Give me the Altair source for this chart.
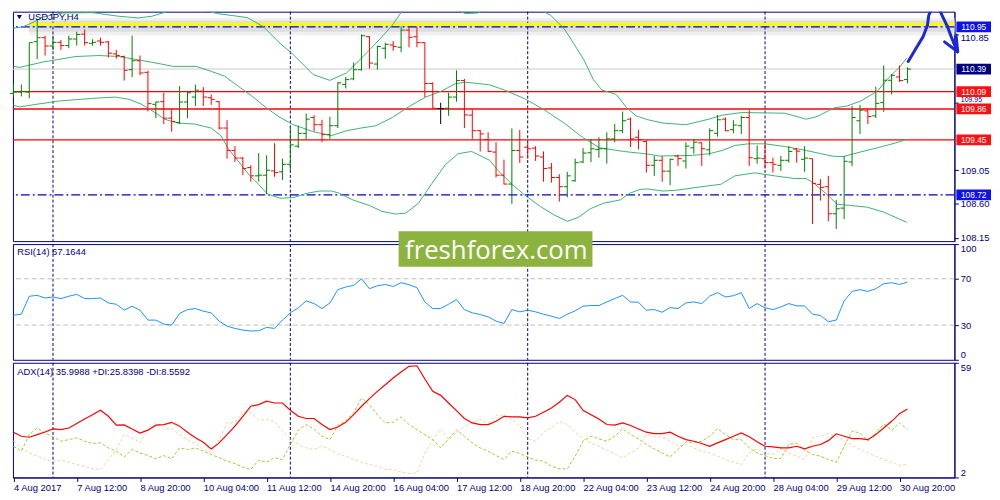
import altair as alt
import pandas as pd

# ---------------- data ----------------
symbol_label = "USDJPY,H4"
rsi_label = "RSI(14) 67.1644"
adx_label = "ADX(14) 35.9988 +DI:25.8398 -DI:8.5592"
watermark = "freshforex.com"

x_labels = ["4 Aug 2017", "7 Aug 12:00", "8 Aug 20:00", "10 Aug 04:00", "11 Aug 12:00",
            "14 Aug 20:00", "16 Aug 04:00", "17 Aug 12:00", "18 Aug 20:00", "22 Aug 04:00",
            "23 Aug 12:00", "24 Aug 20:00", "28 Aug 04:00", "29 Aug 12:00", "30 Aug 20:00"]
week_starts = [5, 35, 65, 95]

opens = [110.067, 110.084, 110.084, 110.753, 110.806, 110.696, 110.744, 110.701, 110.788, 110.854,
         110.731, 110.762, 110.749, 110.591, 110.556, 110.381, 110.500, 110.346, 109.922, 109.957,
         109.739, 109.682, 109.953, 110.018, 110.097, 110.010, 109.957, 109.607, 109.310, 109.209,
         109.083, 108.973, 108.982, 109.039, 109.026, 109.126, 109.367, 109.537, 109.747, 109.651,
         109.520, 109.638, 110.185, 110.259, 110.381, 110.819, 110.456, 110.666, 110.709, 110.679,
         110.906, 110.819, 110.740, 110.198, 109.865, 109.870, 110.018, 110.237, 109.778, 109.572,
         109.454, 109.288, 108.982, 108.864, 109.310, 109.354, 109.341, 109.223, 109.078, 108.951,
         108.829, 108.908, 109.157, 109.279, 109.323, 109.332, 109.463, 109.572, 109.725, 109.485,
         109.428, 109.113, 109.179, 109.035, 109.236, 109.170, 109.345, 109.411, 109.319, 109.537,
         109.725, 109.586, 109.638, 109.747, 109.201, 109.201, 109.148, 109.113, 109.179, 109.328,
         109.192, 109.201, 108.860, 108.829, 108.470, 108.545, 109.157, 109.704, 109.835, 109.769,
         109.944, 110.241, 110.285, 110.250]
highs = [110.193, 110.185, 110.740, 111.046, 110.832, 110.832, 110.775, 110.832, 110.884, 110.915,
         110.784, 110.806, 110.762, 110.644, 110.569, 110.832, 110.569, 110.368, 109.957, 110.075,
         109.857, 110.163, 110.084, 110.185, 110.150, 110.053, 109.966, 109.712, 109.367, 109.223,
         109.113, 109.275, 109.244, 109.406, 109.201, 109.638, 109.638, 109.800, 109.778, 109.717,
         109.756, 110.215, 110.285, 110.478, 110.849, 110.827, 110.701, 110.740, 110.762, 110.955,
         110.955, 110.955, 110.744, 110.215, 109.944, 110.075, 110.373, 110.259, 109.848, 109.581,
         109.551, 109.419, 109.188, 109.603, 109.581, 109.419, 109.367, 109.297, 109.144, 108.995,
         109.026, 109.201, 109.341, 109.463, 109.485, 109.551, 109.660, 109.826, 109.747, 109.581,
         109.441, 109.236, 109.236, 109.201, 109.253, 109.419, 109.463, 109.419, 109.603, 109.782,
         109.747, 109.712, 109.769, 109.844, 109.376, 109.411, 109.214, 109.236, 109.367, 109.345,
         109.367, 109.201, 108.930, 108.973, 108.654, 109.236, 109.900, 109.914, 109.857, 110.154,
         110.438, 110.325, 110.438, 110.412]
lows = [110.018, 110.027, 110.001, 110.521, 110.569, 110.639, 110.644, 110.666, 110.701, 110.701,
        110.701, 110.701, 110.543, 110.526, 110.237, 110.281, 110.307, 109.826, 109.739, 109.660,
        109.559, 109.660, 109.739, 109.900, 109.900, 109.914, 109.586, 109.201, 109.157, 108.982,
        108.895, 108.895, 108.728, 108.960, 108.916, 109.048, 109.341, 109.454, 109.564, 109.419,
        109.463, 109.607, 110.132, 110.241, 110.368, 110.395, 110.381, 110.526, 110.631, 110.613,
        110.679, 110.679, 110.018, 109.870, 109.660, 109.769, 109.957, 109.607, 109.463, 109.297,
        109.288, 108.951, 108.860, 108.602, 109.144, 109.201, 109.170, 108.895, 108.882, 108.632,
        108.689, 108.895, 109.144, 109.157, 109.214, 109.135, 109.419, 109.537, 109.354, 109.323,
        109.017, 108.973, 108.895, 108.851, 109.105, 109.070, 109.266, 109.105, 109.244, 109.494,
        109.564, 109.537, 109.529, 109.105, 109.135, 109.070, 109.017, 109.039, 109.148, 109.148,
        109.026, 108.335, 108.645, 108.370, 108.269, 108.400, 109.100, 109.529, 109.660, 109.739,
        109.822, 110.053, 110.220, 110.198]
closes = [110.084, 110.093, 110.740, 110.806, 110.696, 110.744, 110.701, 110.788, 110.849, 110.740,
          110.744, 110.744, 110.600, 110.569, 110.373, 110.500, 110.338, 109.931, 109.953, 109.739,
          109.695, 109.953, 110.075, 110.110, 110.018, 109.988, 109.607, 109.310, 109.209, 109.070,
          108.973, 108.982, 109.048, 109.017, 109.126, 109.384, 109.537, 109.725, 109.651, 109.520,
          109.638, 110.207, 110.250, 110.381, 110.832, 110.469, 110.688, 110.718, 110.688, 110.906,
          110.810, 110.740, 110.198, 109.870, 109.865, 110.018, 110.237, 109.782, 109.572, 109.529,
          109.297, 108.982, 108.864, 109.310, 109.223, 109.332, 109.236, 109.070, 108.951, 108.829,
          108.973, 109.148, 109.275, 109.332, 109.332, 109.463, 109.572, 109.704, 109.463, 109.454,
          109.113, 109.179, 109.035, 109.192, 109.201, 109.367, 109.419, 109.332, 109.572, 109.717,
          109.572, 109.647, 109.747, 109.214, 109.209, 109.148, 109.126, 109.179, 109.297, 109.301,
          109.209, 108.873, 108.820, 108.470, 108.536, 109.166, 109.747, 109.844, 109.760, 109.935,
          110.241, 110.307, 110.237, 110.390]

bb_upper_x = [0, 1.2, 2.3, 3.7, 6.2, 10.0, 13.3, 15.8, 17.5, 20.0, 23.3, 25.8, 29.6, 31.6, 33.7, 35.4,
              37.9, 40.0, 42.1, 44.2, 46.2, 47.9, 49.6, 52.0, 55.0, 57.1, 58.7, 60.2, 61.3, 63.5, 65.8,
              67.9, 69.6, 70.8, 72.1, 73.3, 74.4, 76.2, 77.5, 78.7, 80.2, 82.1, 85.0, 87.9, 89.6, 92.1,
              97.5, 100.2, 101.6, 103.7, 105.4, 107.1, 109.2, 110.6, 112.1, 112.9]
bb_upper_y = [110.93, 110.95, 111.00, 111.08, 111.134, 111.138, 111.09, 111.068, 111.09, 111.169, 111.19,
              111.125, 111.072, 110.95, 110.731, 110.578, 110.316, 110.24, 110.338, 110.556, 110.775,
              110.972, 111.234, 111.45, 111.22, 111.125, 111.134, 111.19, 111.25, 111.45, 111.221,
              111.103, 110.928, 110.731, 110.513, 110.25, 110.11, 110.053, 109.878, 109.769, 109.717,
              109.673, 109.651, 109.725, 109.778, 109.813, 109.804, 109.725, 109.76, 109.874, 109.9,
              109.966, 110.097, 110.272, 110.425, 110.534]
bb_mid_x = [0, 0.8, 3.7, 7.9, 10.8, 13.3, 16.2, 18.7, 20.2, 23.1, 25.0, 26.7, 28.7, 30.4, 32.1, 33.7,
            35.4, 37.9, 40.2, 42.1, 43.7, 45.8, 47.9, 50.0, 52.1, 54.1, 55.8, 57.1, 58.7, 60.2, 62.1,
            64.6, 67.1, 69.6, 72.1, 74.1, 77.1, 80.2, 81.6, 85.8, 87.9, 89.6, 91.2, 92.9, 95.0, 97.5,
            100.2, 102.1, 103.7, 105.0, 106.2, 108.7, 110.8, 112.9]
bb_mid_y = [110.425, 110.412, 110.482, 110.556, 110.569, 110.556, 110.504, 110.456, 110.425, 110.425,
            110.36, 110.294, 110.141, 110.01, 109.865, 109.747, 109.651, 109.559, 109.507, 109.572,
            109.603, 109.638, 109.747, 109.892, 110.018, 110.097, 110.193, 110.215, 110.198, 110.18,
            110.11, 109.997, 109.848, 109.673, 109.472, 109.345, 109.297, 109.262, 109.236, 109.244,
            109.266, 109.31, 109.376, 109.398, 109.398, 109.362, 109.31, 109.266, 109.231, 109.231,
            109.266, 109.332, 109.389, 109.454]
bb_low_x = [0, 0.8, 2.9, 5.8, 10.0, 12.9, 14.6, 16.2, 17.9, 19.1, 20.2, 20.8, 22.9, 25.0, 26.2, 27.3,
            28.5, 29.8, 31.0, 32.1, 33.7, 35.4, 37.1, 38.7, 40.2, 41.2, 42.9, 45.0, 46.6, 48.3, 49.6,
            51.2, 52.9, 54.6, 56.2, 57.9, 60.2, 61.2, 62.9, 64.6, 66.6, 68.3, 70.0, 71.4, 72.9, 74.6,
            76.7, 77.9, 79.2, 80.2, 82.1, 83.7, 87.9, 89.4, 91.2, 93.7, 96.2, 98.7, 100.2, 101.2,
            102.9, 104.1, 105.8, 107.9, 110.0, 112.9]
bb_low_y = [109.909, 109.887, 109.922, 109.966, 110.001, 110.018, 109.988, 109.922, 109.813, 109.725,
            109.69, 109.673, 109.66, 109.607, 109.507, 109.31, 109.157, 108.982, 108.86, 108.733,
            108.676, 108.685, 108.742, 108.772, 108.772, 108.742, 108.654, 108.58, 108.501, 108.466,
            108.479, 108.61, 108.873, 109.122, 109.266, 109.297, 109.179, 109.048, 108.873, 108.72,
            108.567, 108.457, 108.37, 108.422, 108.536, 108.61, 108.654, 108.742, 108.794, 108.798,
            108.772, 108.781, 108.842, 108.86, 108.973, 109.013, 108.973, 108.938, 108.938, 108.873,
            108.72, 108.597, 108.58, 108.558, 108.492, 108.357]

resistance_level = 110.95
support_level = 108.72
red_levels = [110.09, 109.86, 109.45]
bid_price = 110.39
price_ticks = [108.15, 108.60, 109.05, 109.95, 110.85]

rsi = [38.6, 39.4, 54.9, 55.7, 53.4, 54.3, 52.9, 54.9, 56.6, 52.9,
       52.9, 53.4, 49.1, 48.0, 42.9, 46.3, 42.9, 34.3, 34.3, 30.9,
       30.0, 40.0, 43.4, 44.3, 42.0, 40.6, 33.4, 29.1, 27.1, 25.7,
       24.9, 25.1, 28.0, 27.1, 34.3, 40.6, 44.9, 50.9, 48.6, 44.3,
       49.1, 60.6, 62.9, 64.3, 70.0, 61.4, 64.0, 65.1, 63.4, 66.6,
       64.9, 62.3, 50.0, 44.3, 44.3, 48.0, 52.0, 43.4, 40.6, 39.1,
       37.1, 33.4, 31.4, 43.4, 41.4, 42.9, 41.4, 39.4, 37.7, 35.7,
       39.4, 42.3, 46.3, 46.9, 46.9, 50.0, 52.9, 55.7, 50.0, 49.7,
       42.9, 43.4, 41.1, 45.1, 44.3, 49.1, 50.0, 48.6, 55.1, 58.0,
       54.3, 55.4, 58.0, 44.3, 48.6, 44.9, 43.4, 45.7, 48.6, 46.6,
       46.6, 39.4, 38.3, 32.9, 34.3, 50.9, 59.1, 60.6, 59.1, 61.4,
       65.7, 66.6, 65.1, 67.2]
rsi_levels = [70, 30]

adx = [24.5, 22.5, 22.0, 23.3, 24.6, 26.1, 25.8, 26.6, 28.8, 31.1,
       33.2, 35.4, 32.4, 28.0, 28.1, 26.1, 24.1, 25.5, 28.0, 28.3,
       29.4, 27.5, 24.5, 21.7, 19.5, 16.2, 19.2, 23.3, 27.5, 32.4,
       37.4, 38.2, 39.9, 39.0, 39.0, 35.4, 32.4, 31.3, 31.3, 28.3,
       25.8, 27.1, 29.4, 33.2, 37.4, 41.2, 44.8, 48.1, 51.4, 54.4,
       57.2, 57.5, 50.9, 44.8, 42.8, 39.0, 35.2, 31.3, 29.1, 28.3,
       28.3, 29.9, 32.4, 32.1, 32.1, 31.6, 32.4, 34.4, 36.5, 39.4,
       42.8, 40.7, 35.4, 33.2, 31.1, 28.3, 28.0, 29.1, 27.8, 26.1,
       24.5, 23.8, 23.8, 24.5, 22.5, 20.8, 20.0, 18.9, 17.5, 19.2,
       20.8, 22.5, 24.1, 22.2, 19.7, 17.5, 17.2, 16.7, 16.7, 17.5,
       16.2, 17.5, 18.4, 20.3, 23.7, 22.5, 21.3, 21.3, 20.8, 23.3,
       26.6, 29.9, 33.7, 36.0]
plus_di = [17.5, 15.1, 23.3, 26.6, 24.1, 22.2, 20.0, 20.8, 21.7, 20.0,
           18.9, 19.2, 16.7, 15.1, 12.2, 15.9, 14.2, 12.9, 11.3, 12.9,
           11.3, 16.7, 15.9, 16.7, 15.1, 13.4, 11.8, 10.1, 8.9, 7.1,
           6.0, 10.6, 9.6, 11.8, 10.9, 18.4, 25.5, 28.3, 26.1, 22.5,
           20.8, 27.8, 30.3, 34.1, 41.5, 38.2, 33.2, 29.1, 29.4, 32.1,
           28.3, 25.8, 23.3, 20.8, 16.7, 21.2, 25.5, 22.5, 19.2, 16.7,
           15.1, 12.9, 10.9, 15.1, 13.9, 12.2, 10.6, 10.1, 7.6, 6.3,
           6.3, 12.6, 20.0, 22.5, 21.2, 20.0, 22.5, 26.3, 23.3, 21.2,
           18.4, 16.2, 14.2, 12.2, 15.9, 19.5, 19.5, 20.0, 22.5, 26.3,
           23.3, 20.8, 20.8, 16.7, 14.2, 12.9, 11.4, 11.4, 18.4, 18.9,
           15.6, 13.4, 12.6, 10.9, 9.6, 17.5, 25.0, 24.1, 20.0, 24.1,
           28.6, 25.5, 29.1, 25.8]
minus_di = [20.0, 16.7, 14.2, 12.6, 10.9, 10.1, 10.6, 9.6, 8.4, 7.6,
            6.3, 6.0, 10.9, 15.9, 23.3, 21.7, 19.2, 25.8, 29.4, 26.1,
            26.1, 23.3, 20.8, 18.9, 16.2, 14.2, 20.8, 29.1, 29.4, 34.9,
            34.1, 30.4, 30.8, 29.9, 25.0, 21.2, 18.4, 16.7, 15.9, 17.5,
            15.9, 13.7, 12.6, 10.9, 9.6, 8.4, 7.6, 6.0, 6.0, 4.6,
            4.0, 4.3, 14.2, 20.8, 26.1, 20.8, 24.1, 27.1, 29.4, 30.8,
            29.1, 32.7, 33.2, 30.8, 27.5, 21.2, 20.0, 24.5, 26.6, 29.9,
            28.3, 24.5, 21.3, 19.2, 17.5, 15.6, 13.7, 11.8, 14.2, 16.7,
            23.3, 22.5, 22.0, 20.0, 17.5, 18.4, 16.7, 15.1, 14.2, 12.6,
            10.9, 9.6, 8.4, 14.2, 16.2, 14.2, 13.4, 16.2, 14.2, 12.6,
            10.9, 21.7, 22.5, 23.7, 22.5, 20.3, 17.9, 15.9, 14.2, 12.6,
            10.9, 9.6, 8.0, 8.6]

# hand-drawn arrow (bar position, price): rising stroke, falling stroke, two barbs of the head
arrow_up_x = [113.1, 113.94, 114.98, 115.53, 115.69, 116.1, 116.53, 116.94, 117.48, 118.03]
arrow_up_y = [110.49, 110.64, 110.82, 110.97, 111.10, 111.20, 111.246, 111.20, 111.08, 110.96]
arrow_down_x = [118.03, 118.53, 119.03, 119.35]
arrow_down_y = [110.96, 110.82, 110.69, 110.62]
barb1_x = [117.69, 119.35]
barb1_y = [110.75, 110.62]
barb2_x = [119.15, 119.35]
barb2_y = [110.84, 110.62]

# ---------------- styling / layout ----------------
W = 952
H_PRICE, H_RSI, H_ADX = 232, 117, 116
XDOM = [-0.0625, 118.9375]
NAVY = "#000080"
FONT = "Liberation Sans"
BB_COLOR = "#3CB371"
ARROW = "#1C28D8"

xs = alt.Scale(domain=XDOM, nice=False, zero=False)
ps = alt.Scale(domain=[108.1073, 111.1507], nice=False, zero=False)

# the two labels that sit against the level boxes are nudged (and one shrunk) so they stay readable
squeezed = "datum.value > 109.9 && datum.value < 110"
price_axis = alt.Axis(orient="right", values=price_ticks, format=".2f", title=None, grid=False,
                      labelColor=NAVY, tickColor=NAVY, domainColor=NAVY, tickSize=4, labelPadding=2,
                      labelFont=FONT, labelOverlap=False,
                      labelFontSize={"expr": f"{squeezed} ? 7 : 9.5"},
                      labelOffset={"expr": f"datum.value > 110.8 ? 3 : ({squeezed} ? -2.2 : 0)"})


def X(field):
    return alt.X(f"{field}:Q", scale=xs, axis=None)


def PY(field):
    return alt.Y(f"{field}:Q", scale=ps, axis=price_axis)


n = len(opens)
bars = pd.DataFrame({"i": list(range(n)), "o": opens, "h": highs, "l": lows, "c": closes})
bars["dir"] = ["up" if c > o else ("down" if c < o else "flat") for o, c in zip(opens, closes)]
dir_color = alt.Color("dir:N", scale=alt.Scale(domain=["up", "down", "flat"],
                                               range=["#008000", "#FF0000", "#000000"]), legend=None)

seps = pd.DataFrame({"i": week_starts})

# price panel layers
shadow = alt.Chart(pd.DataFrame({"a": [2.0, 2.0], "b": [XDOM[1]] * 2,
                                 "p1": [111.07, 111.035], "p2": [110.835, 110.885],
                                 "col": ["#F0F0F0", "#DEDEDE"]})).mark_rect().encode(
    x=X("a"), x2="b", y=PY("p1"), y2="p2", color=alt.Color("col:N", scale=None))
sep_p = alt.Chart(seps).mark_rule(color=NAVY, strokeDash=[3, 2], strokeWidth=1).encode(x=X("i"))
yellow = alt.Chart(pd.DataFrame({"a": [2.0], "b": [XDOM[1]], "p": [resistance_level + 0.035]})).mark_rule(
    color="#FFFF00", strokeWidth=3).encode(x=X("a"), x2="b", y=PY("p"))
bid_line = alt.Chart(pd.DataFrame({"p": [bid_price]})).mark_rule(color="#C8C8C8", strokeWidth=1).encode(y=PY("p"))
red_lines = alt.Chart(pd.DataFrame({"p": red_levels})).mark_rule(color="#FF0000", strokeWidth=1.3).encode(y=PY("p"))
blue_lines = alt.Chart(pd.DataFrame({"p": [resistance_level, support_level]})).mark_rule(
    color="#0000CD", strokeWidth=1.2, strokeDash=[9, 3, 2, 3]).encode(y=PY("p"))

bb = pd.concat([
    pd.DataFrame({"x": bb_upper_x, "p": bb_upper_y, "band": "upper"}),
    pd.DataFrame({"x": bb_mid_x, "p": bb_mid_y, "band": "middle"}),
    pd.DataFrame({"x": bb_low_x, "p": bb_low_y, "band": "lower"}),
])
bb_lines = alt.Chart(bb).mark_line(color=BB_COLOR, strokeWidth=1, clip=True).encode(
    x=X("x"), y=PY("p"), detail="band:N", order="x:Q")

hl = alt.Chart(bars).mark_rule(strokeWidth=1).encode(x=X("i"), y=PY("h"), y2="l", color=dir_color)
open_t = alt.Chart(bars).transform_calculate(x0="datum.i - 0.45").mark_rule(strokeWidth=1).encode(
    x=X("x0"), x2="i", y=PY("o"), color=dir_color)
close_t = alt.Chart(bars).transform_calculate(x1="datum.i + 0.45").mark_rule(strokeWidth=1).encode(
    x=X("i"), x2="x1", y=PY("c"), color=dir_color)

arrow_top = alt.Chart(pd.DataFrame({"x": arrow_up_x, "p": arrow_up_y, "k": range(len(arrow_up_x))})).mark_line(
    color=ARROW, strokeWidth=3, clip=True, strokeCap="round", strokeJoin="round").encode(
    x=X("x"), y=PY("p"), order="k:Q")
head_df = pd.concat([
    pd.DataFrame({"x": arrow_down_x, "p": arrow_down_y, "seg": "a", "k": range(len(arrow_down_x))}),
    pd.DataFrame({"x": barb1_x, "p": barb1_y, "seg": "b", "k": range(2)}),
    pd.DataFrame({"x": barb2_x, "p": barb2_y, "seg": "c", "k": range(2)}),
])
arrow_head = alt.Chart(head_df).mark_line(color=ARROW, strokeWidth=3, clip=False,
                                          strokeCap="round", strokeJoin="round").encode(
    x=X("x"), y=PY("p"), detail="seg:N", order="k:Q")

boxes_df = pd.DataFrame({
    "p": [resistance_level, bid_price] + red_levels + [support_level],
    "col": ["#1010E8", "#000080", "#FF1010", "#FF1010", "#FF1010", "#1010E8"],
})
boxes_df["txt"] = [f"{v:.2f}" for v in boxes_df["p"]]
BOX = "M-1,-0.31L1,-0.31L1,0.31L-1,0.31Z"
box_marks = alt.Chart(boxes_df).mark_point(shape=BOX, size=35 * 35, filled=True, opacity=1,
                                           strokeWidth=0).encode(
    x=alt.value(W + 19.5), y=PY("p"), color=alt.Color("col:N", scale=None))
box_text = alt.Chart(boxes_df).mark_text(color="white", font=FONT, fontSize=8.5, align="center",
                                         baseline="middle").encode(
    x=alt.value(W + 19.5), y=PY("p"), text="txt:N")

title_df = pd.DataFrame({"t": [symbol_label]})
tri = alt.Chart(title_df).mark_point(shape="triangle-down", filled=True, size=26, color=NAVY,
                                     opacity=1).encode(x=alt.value(6.5), y=alt.value(5.5))
title = alt.Chart(title_df).mark_text(align="left", baseline="top", font=FONT, fontSize=9.5,
                                      color=NAVY).encode(x=alt.value(15.5), y=alt.value(0.5), text="t:N")

price = alt.layer(shadow, sep_p, yellow, bid_line, red_lines, blue_lines, bb_lines, hl, open_t, close_t,
                  arrow_top, arrow_head, box_marks, box_text, tri, title).properties(width=W, height=H_PRICE)

# RSI panel
rs = alt.Scale(domain=[0, 100], nice=False, zero=False)
rsi_axis = alt.Axis(orient="right", values=[0, 30, 70, 100], title=None, grid=False, labelFlush=True,
                    labelColor=NAVY, tickColor=NAVY, domainColor=NAVY, tickSize=4, labelPadding=2,
                    labelFont=FONT, labelFontSize=9.5)
rsi_df = pd.DataFrame({"i": list(range(n)), "v": rsi})
sep_r = alt.Chart(seps).mark_rule(color=NAVY, strokeDash=[3, 2], strokeWidth=1).encode(x=X("i"))
rsi_lv = alt.Chart(pd.DataFrame({"v": rsi_levels})).mark_rule(color="#C0C0C0", strokeDash=[5, 3]).encode(
    y=alt.Y("v:Q", scale=rs, axis=rsi_axis))
rsi_line = alt.Chart(rsi_df).mark_line(color="#1E90FF", strokeWidth=1).encode(
    x=X("i"), y=alt.Y("v:Q", scale=rs, axis=rsi_axis))
rsi_title = alt.Chart(pd.DataFrame({"t": [rsi_label]})).mark_text(
    align="left", baseline="middle", font=FONT, fontSize=9.5, color=NAVY).encode(
    x=alt.value(4.3), y=alt.value(8), text="t:N")
wm_box = alt.Chart(pd.DataFrame({"t": [watermark]})).mark_rect(color="#8DB33F").encode(
    x=alt.value(390), x2=alt.value(586), y=alt.value(-13), y2=alt.value(23))
wm_text = alt.Chart(pd.DataFrame({"t": [watermark]})).mark_text(
    align="center", baseline="alphabetic", font="Open Sans", fontSize=26, color="white").encode(
    x=alt.value(488.7), y=alt.value(15.5), text="t:N")
rsi_panel = alt.layer(sep_r, rsi_lv, rsi_line, rsi_title, wm_box, wm_text).properties(width=W, height=H_RSI)

# ADX panel
ads = alt.Scale(domain=[2, 59], nice=False, zero=False)
adx_axis = alt.Axis(orient="right", values=[2, 59], title=None, grid=False, labelFlush=True,
                    labelColor=NAVY, tickColor=NAVY, domainColor=NAVY, tickSize=4, labelPadding=2,
                    labelFont=FONT, labelFontSize=9.5)
label_js = "[" + ",".join("'" + s + "'" for s in x_labels) + "][round(datum.value / 8)]"
x_axis = alt.Axis(values=[8 * k for k in range(len(x_labels))], labelExpr=label_js, title=None,
                  grid=False, labelAlign="left", labelColor=NAVY, tickColor=NAVY, domainColor=NAVY,
                  tickSize=4, labelPadding=1, labelFont=FONT, labelFontSize=9.5, labelOverlap=False,
                  labelFlush=False)


def XA(field):
    return alt.X(f"{field}:Q", scale=xs, axis=x_axis)


sep_a = alt.Chart(seps).mark_rule(color=NAVY, strokeDash=[3, 2], strokeWidth=1).encode(x=XA("i"))
mdi_line = alt.Chart(pd.DataFrame({"i": list(range(n)), "v": minus_di})).mark_line(
    color="#F5D3A2", strokeWidth=1, strokeDash=[3, 2]).encode(x=XA("i"), y=alt.Y("v:Q", scale=ads, axis=adx_axis))
pdi_line = alt.Chart(pd.DataFrame({"i": list(range(n)), "v": plus_di})).mark_line(
    color="#9ACD32", strokeWidth=1, strokeDash=[3, 2]).encode(x=XA("i"), y=alt.Y("v:Q", scale=ads, axis=adx_axis))
adx_line = alt.Chart(pd.DataFrame({"i": list(range(n)), "v": adx})).mark_line(
    color="#FF0000", strokeWidth=1.2).encode(x=XA("i"), y=alt.Y("v:Q", scale=ads, axis=adx_axis))
adx_title = alt.Chart(pd.DataFrame({"t": [adx_label]})).mark_text(
    align="left", baseline="middle", font=FONT, fontSize=9.5, color=NAVY).encode(
    x=alt.value(4.3), y=alt.value(9), text="t:N")
adx_panel = alt.layer(sep_a, mdi_line, pdi_line, adx_line, adx_title).properties(width=W, height=H_ADX)

chart = alt.vconcat(price, rsi_panel, adx_panel, spacing=3, bounds="flush").properties(
    padding=0,
    background="white",
).configure_view(stroke=NAVY, strokeWidth=1)

chart.save("out.html", embed_options={"renderer": "svg", "actions": False})
